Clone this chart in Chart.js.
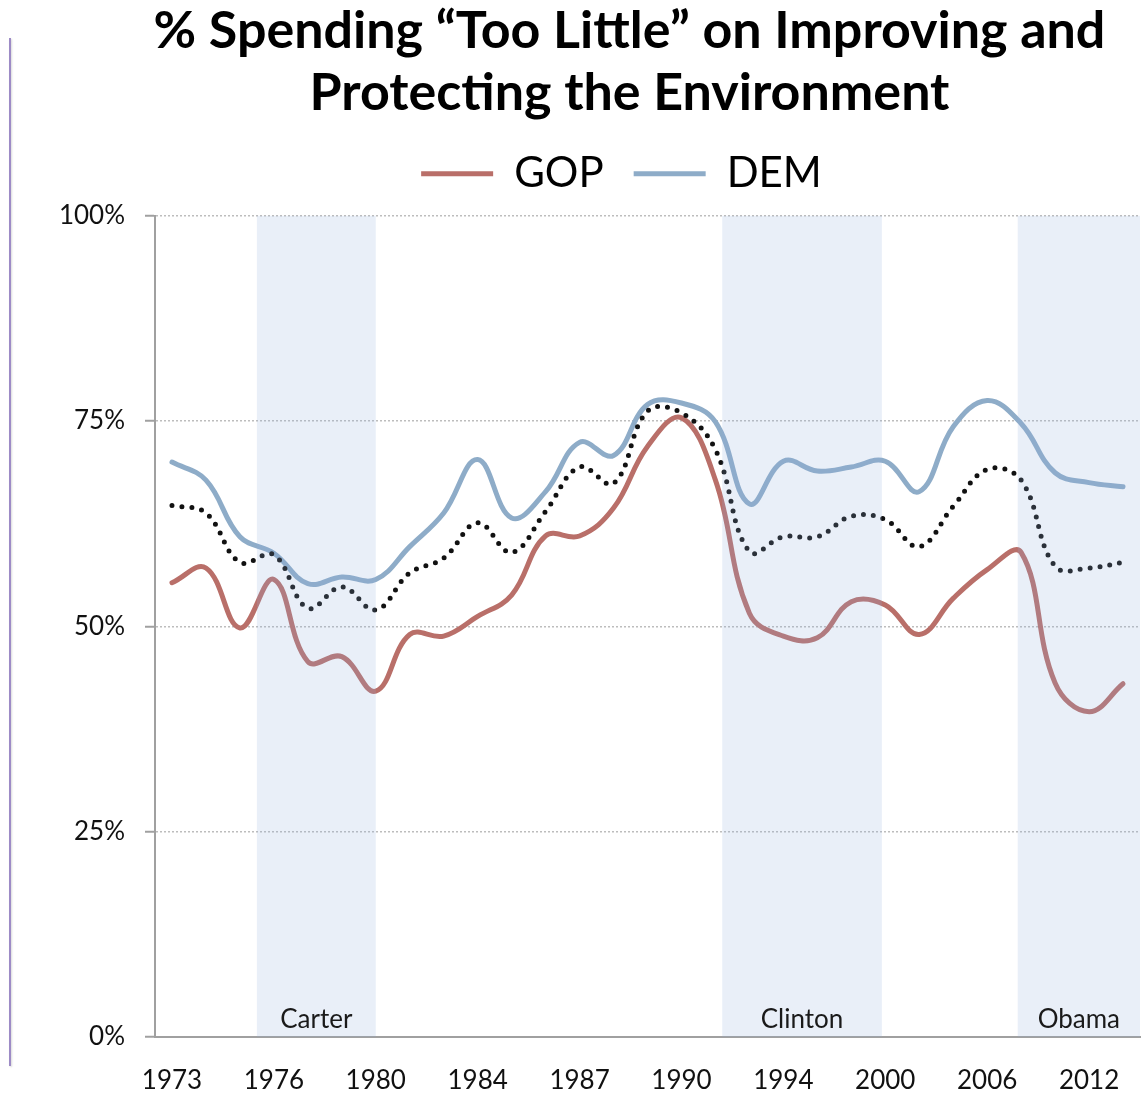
<!DOCTYPE html>
<html>
<head>
<meta charset="utf-8">
<script src="https://cdn.jsdelivr.net/npm/chart.js@4.4.1/dist/chart.umd.min.js"></script>
<style>
  body { margin: 0; background: #fff; }
  #wrap { position: relative; width: 1141px; height: 1100px; }
  #rule { position: absolute; left: 9px; top: 38px; width: 2px; height: 1028px; background: #9d8bc6; box-shadow: 1px 1px 2px rgba(0,0,0,0.15); }
</style>
</head>
<body>
<div id="wrap">
  <div id="rule"></div>
  <canvas id="myChart" width="1141" height="1100"></canvas>
</div>
<script>
const years = ['1973','1974','1975','1976','1977','1978','1980','1982','1983','1984','1985','1986','1987','1988','1989','1990','1991','1993','1994','1996','1998','2000','2002','2004','2006','2008','2010','2012','2014'];
const gop = [55.3, 57.1, 49.8, 55.7, 45.7, 46.3, 42.1, 49, 48.8, 51.2, 53.8, 61, 61, 64.4, 71.9, 75.4, 67.8, 51.6, 48.8, 48.6, 53, 52.6, 49, 53.4, 56.9, 59, 43.1, 39.6, 43];
const dem = [70, 67.8, 60.9, 58.9, 55.2, 56, 55.7, 59.7, 63.8, 70.3, 63.2, 66.4, 72.4, 70.8, 77, 77.2, 74.9, 64.9, 70.1, 68.9, 69.4, 70.1, 66.4, 74.3, 77.5, 74.7, 68.7, 67.5, 67];
const overall = [64.7, 63.8, 57.8, 58.7, 52.2, 54.8, 52, 56.5, 58.3, 62.6, 59, 64, 69.4, 67.4, 76.2, 76, 71.5, 59.1, 60.9, 60.9, 63.4, 63, 59.7, 64.6, 69.1, 67.8, 57.3, 57.1, 57.8];
const shownYears = ['1973','1976','1980','1984','1987','1990','1994','2000','2006','2012'];
const yTicks = [0, 25, 50, 75, 100];
// presidential terms shaded, in category index units
const termNames = ['Carter', 'Clinton', 'Obama'];
const termStart = [2.5, 16.2, 24.9];
const termEnd = [6, 20.9, 28.5];

const termBands = {
    id: 'termBands',
    afterDatasetsDraw(chart) {
        const { ctx, chartArea: a, scales: { x } } = chart;
        ctx.save();
        termNames.forEach((name, i) => {
            const left = Math.max(a.left, x.getPixelForValue(termStart[i]));
            const right = Math.min(a.right, x.getPixelForValue(termEnd[i]));
            ctx.fillStyle = 'rgba(145, 175, 220, 0.2)';
            ctx.fillRect(left, a.top, right - left, a.bottom - a.top);
            ctx.fillStyle = '#1a1a1a';
            ctx.font = '26px Lato';
            ctx.textAlign = 'center';
            ctx.textBaseline = 'alphabetic';
            ctx.fillText(name, (left + right) / 2, a.bottom - 9);
        });
        ctx.restore();
    }
};

// nudge title and legend so they sit where the original has them
const headerShift = {
    id: 'headerShift',
    afterLayout(chart) {
        const t = chart.titleBlock, l = chart.legend;
        t.left += 32; t.right += 32;
        l.left += 24; l.right += 24;
        l.top -= 11; l.bottom -= 11;
    }
};

const ctx = document.getElementById('myChart').getContext('2d');
new Chart(ctx, {
    type: 'line',
    data: {
        labels: years,
        datasets: [
            { label: 'All', data: overall, order: 0, borderColor: '#111', borderWidth: 5,
              borderDash: [0, 10], borderCapStyle: 'round', tension: 0.4, pointRadius: 0 },
            { label: 'GOP', data: gop, order: 1, borderColor: '#b96f69', borderWidth: 5,
              borderCapStyle: 'round', tension: 0.4, pointRadius: 0 },
            { label: 'DEM', data: dem, order: 2, borderColor: '#8eacc8', borderWidth: 5,
              borderCapStyle: 'round', tension: 0.4, pointRadius: 0 }
        ]
    },
    options: {
        responsive: false,
        animation: false,
        events: [],
        layout: { padding: { left: 55, right: 1, top: 0, bottom: -24 } },
        plugins: {
            title: {
                display: true,
                text: ['% Spending “Too Little” on Improving and', 'Protecting the Environment'],
                color: '#000',
                font: { family: 'Lato', size: 52, weight: 'bold', lineHeight: 1.19 },
                padding: { top: 0, bottom: 10 }
            },
            legend: {
                labels: {
                    filter: item => item.text !== 'All',
                    usePointStyle: true,
                    pointStyle: 'line',
                    pointStyleWidth: 72,
                    padding: 30,
                    color: '#000',
                    font: { family: 'Lato', size: 42 }
                }
            },
            tooltip: { enabled: false }
        },
        scales: {
            x: {
                offset: true,
                afterFit: scale => { scale.paddingLeft = 0; scale.paddingRight = 0; },
                grid: { display: false, drawTicks: false },
                border: { display: true, color: '#a0a0a0', width: 2 },
                ticks: {
                    autoSkip: false,
                    maxRotation: 0,
                    padding: 28,
                    color: '#111',
                    font: { family: 'Lato', size: 26 },
                    callback: function (val) {
                        const lab = this.getLabelForValue(val);
                        return shownYears.includes(lab) ? lab : '';
                    }
                }
            },
            y: {
                min: 0,
                max: 100,
                afterFit: scale => { scale.width = 100; },
                afterBuildTicks: scale => { scale.ticks = yTicks.map(v => ({ value: v })); },
                grid: { color: '#bdbdbd', lineWidth: 1.5,
                        tickLength: 10, tickColor: '#a0a0a0', tickWidth: 2, tickBorderDash: [] },
                border: { color: '#a0a0a0', width: 2, dash: [2, 2] },
                ticks: {
                    padding: 20,
                    color: '#111',
                    font: { family: 'Lato', size: 26 },
                    callback: v => v + '%'
                }
            }
        }
    },
    plugins: [termBands, headerShift]
});
</script>
</body>
</html>
